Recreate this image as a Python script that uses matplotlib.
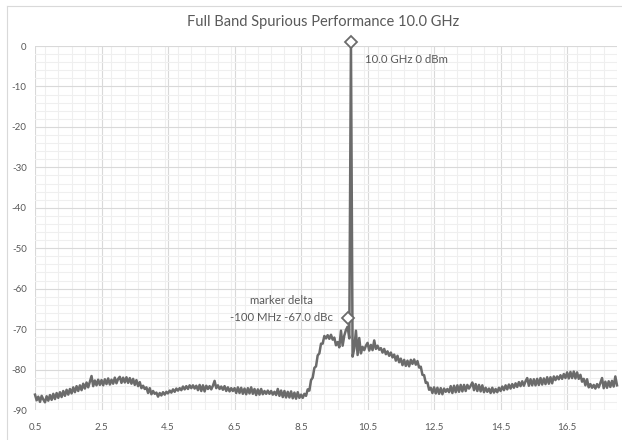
import numpy as np
import matplotlib.pyplot as plt
from matplotlib.ticker import MultipleLocator, FixedLocator

# --- data (0.5 .. 18.0 GHz, 50 MHz steps) ---
freq_start = 0.5
freq_stop = 18.0
level_dbm = [
    # 0.5 - 1.45 GHz
    -86.2, -87.6, -86.7, -88.0, -86.5, -87.4, -88.1, -86.6, -87.7, -86.3,
    -87.5, -86.0, -87.3, -85.8, -87.0, -85.6, -86.8, -85.3, -86.5, -85.0,
    # 1.5 - 2.45
    -86.2, -84.8, -85.9, -84.4, -85.6, -84.1, -85.3, -83.9, -85.1, -83.5,
    -84.7, -83.2, -84.4, -83.0, -81.6, -84.1, -82.7, -83.9, -82.5, -83.8,
    # 2.5 - 3.45
    -82.6, -83.9, -82.4, -83.6, -82.2, -83.7, -82.5, -83.5, -82.0, -83.4,
    -82.3, -81.8, -83.3, -82.0, -83.2, -81.9, -83.3, -82.1, -83.5, -82.3,
    # 3.5 - 4.45
    -83.8, -82.6, -84.1, -83.1, -84.6, -84.0, -84.8, -84.4, -85.8, -84.6,
    -86.1, -85.3, -86.0, -85.7, -86.7, -85.8, -86.4, -85.6, -86.2, -85.5,
    # 4.5 - 5.45
    -85.9, -85.2, -85.7, -84.9, -85.5, -84.7, -85.2, -84.6, -85.1, -84.2,
    -84.9, -84.1, -84.8, -83.9, -84.6, -83.9, -84.7, -84.0, -85.1, -83.8,
    # 5.5 - 6.45
    -85.3, -83.9, -85.4, -84.0, -84.8, -84.1, -84.9, -84.0, -82.8, -84.6,
    -83.9, -84.8, -84.2, -85.0, -84.1, -85.3, -84.4, -85.4, -84.6, -85.3,
    # 6.5 - 7.45
    -84.6, -85.8, -84.4, -85.8, -84.5, -86.0, -84.7, -86.1, -84.6, -85.9,
    -84.4, -86.0, -84.8, -86.3, -84.9, -86.2, -84.8, -86.1, -85.3, -86.0,
    # 7.5 - 8.45
    -85.2, -86.0, -85.3, -86.2, -85.5, -86.3, -84.8, -86.5, -85.2, -86.8,
    -85.3, -86.9, -85.5, -86.9, -85.4, -87.1, -85.7, -87.2, -85.6, -87.0,
    # 8.5 - 9.45
    -86.2, -87.0, -86.0, -86.5, -84.9, -85.2, -82.6, -82.0, -79.6, -79.2,
    -76.5, -76.0, -73.6, -73.6, -71.7, -72.3, -71.5, -72.4, -71.4, -72.6,
    # 9.5 - 10.45 (carrier at 10.0)
    -72.1, -74.0, -73.2, -74.5, -70.4, -74.1, -71.6, -70.2, -69.4, -72.3,
    1.0, -76.8, -74.8, -70.4, -76.4, -72.2, -76.0, -74.4, -75.2, -74.1,
    # 10.5 - 11.45
    -73.4, -75.3, -73.9, -75.2, -72.8, -74.9, -74.1, -75.1, -74.7, -75.8,
    -74.9, -76.2, -75.5, -76.6, -75.8, -77.0, -76.3, -77.8, -76.6, -78.2,
    # 11.5 - 12.45
    -77.3, -78.9, -77.6, -79.1, -77.8, -79.2, -77.6, -78.6, -77.5, -78.8,
    -77.9, -79.5, -79.3, -81.3, -81.4, -83.3, -83.2, -85.0, -84.5, -85.8,
    # 12.5 - 13.45
    -84.4, -85.9, -84.5, -86.0, -84.6, -86.1, -84.7, -85.5, -84.8, -85.6,
    -84.1, -85.8, -84.0, -85.6, -83.9, -85.5, -83.8, -85.4, -83.8, -85.3,
    # 13.5 - 14.45
    -83.8, -84.7, -84.0, -83.2, -85.1, -83.6, -85.3, -83.8, -85.4, -83.9,
    -85.6, -84.5, -85.5, -84.7, -85.8, -84.5, -85.7, -84.8, -85.6, -84.5,
    # 14.5 - 15.45
    -85.3, -84.2, -85.1, -83.9, -84.9, -83.7, -84.7, -83.6, -84.5, -83.4,
    -84.3, -83.1, -84.1, -82.9, -84.0, -82.9, -82.1, -84.0, -82.4, -83.9,
    # 15.5 - 16.45
    -82.4, -83.9, -82.3, -83.8, -82.1, -83.7, -82.2, -83.6, -81.9, -83.5,
    -81.9, -83.4, -81.7, -82.6, -81.7, -82.4, -81.4, -82.3, -81.1, -82.1,
    # 16.5 - 17.45
    -80.7, -82.2, -80.6, -82.1, -80.5, -82.2, -80.7, -82.3, -81.3, -83.0,
    -82.3, -83.9, -82.4, -84.4, -83.6, -84.5, -83.8, -84.7, -83.6, -84.4,
    # 17.5 - 18.0
    -83.3, -82.1, -84.6, -83.0, -84.5, -82.9, -84.3, -82.8, -84.2, -81.7,
    -83.9,
]
freq_ghz = np.linspace(freq_start, freq_stop, len(level_dbm))

# marker points (carrier and the -100 MHz spur)
marker_ghz = [10.0, 9.9]
marker_dbm = [1.0, -67.3]

x_ticks = [0.5, 2.5, 4.5, 6.5, 8.5, 10.5, 12.5, 14.5, 16.5]
x_labels = ['0.5', '2.5', '4.5', '6.5', '8.5', '10.5', '12.5', '14.5', '16.5']
y_ticks = [0, -10, -20, -30, -40, -50, -60, -70, -80, -90]
y_labels = ['0', '-10', '-20', '-30', '-40', '-50', '-60', '-70', '-80', '-90']

plt.rcParams['font.family'] = ['Lato', 'DejaVu Sans']
plt.rcParams['axes.unicode_minus'] = False

line_col = '#6b6b6b'
text_col = '#595959'

fig = plt.figure(figsize=(6.22, 4.40), dpi=100)
ax = fig.add_axes([35 / 622, 1 - 410 / 440, 582 / 622, (410 - 46) / 440])

ax.plot(freq_ghz, level_dbm, color=line_col, linewidth=1.8, clip_on=False, zorder=3)
ax.plot(marker_ghz, marker_dbm, linestyle='none', marker='D', markersize=6,
        markerfacecolor='white', markeredgecolor=line_col, markeredgewidth=1.3,
        clip_on=False, zorder=4)

ax.text(10.42, -3.3, '10.0 GHz 0 dBm', color=text_col, fontsize=8.2,
        ha='left', va='center')
ax.text(7.9, -65.0, 'marker delta\n-100 MHz -67.0 dBc', color=text_col,
        fontsize=8.2, ha='center', va='center', linespacing=1.6)

ax.set_xlim(freq_start, freq_stop)
ax.set_ylim(-90, 0)
ax.xaxis.set_major_locator(FixedLocator(x_ticks))
ax.set_xticklabels(x_labels)
ax.xaxis.set_minor_locator(MultipleLocator(0.4))
ax.set_yticks(y_ticks)
ax.set_yticklabels(y_labels)
ax.yaxis.set_minor_locator(MultipleLocator(2))

ax.grid(True, which='major', color='#d9d9d9', linewidth=0.8)
ax.grid(True, which='minor', color='#efefef', linewidth=0.8)
ax.set_axisbelow(True)
for s in ax.spines.values():
    s.set_visible(False)
ax.tick_params(which='both', length=0, labelsize=7, labelcolor=text_col)
ax.tick_params(axis='x', pad=9)
ax.tick_params(axis='y', pad=6)

fig.suptitle('Full Band Spurious Performance 10.0 GHz', x=0.52, y=1 - 22 / 440,
             va='center', fontsize=10.5, color=text_col)

# thin chart border on the left/top like the Excel chart area
fig.add_artist(plt.Line2D([7 / 622, 7 / 622], [0, 1 - 6 / 440],
                          color='#d9d9d9', linewidth=0.8, transform=fig.transFigure))
fig.add_artist(plt.Line2D([7 / 622, 1], [1 - 6 / 440, 1 - 6 / 440],
                          color='#d9d9d9', linewidth=0.8, transform=fig.transFigure))

fig.savefig('out.png', dpi=100)
